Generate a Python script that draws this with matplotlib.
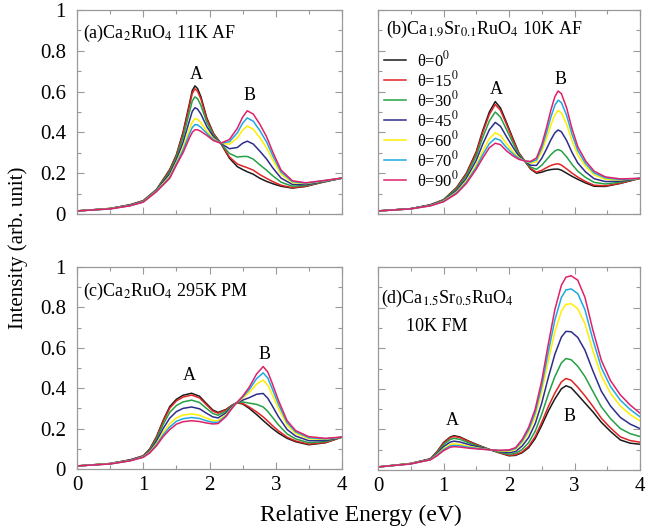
import matplotlib
matplotlib.use("Agg")
import matplotlib.pyplot as plt
from matplotlib.ticker import MultipleLocator, FixedLocator, FixedFormatter

plt.rcParams['font.family'] = ['Liberation Serif', 'DejaVu Serif']
plt.rcParams['mathtext.fontset'] = 'stix'

# angle labels and line colours
angles = ["0", "15", "30", "45", "60", "70", "90"]
colors = ["#1a1a1a", "#e02424", "#25a045", "#2e2e8a", "#ffee00", "#1fa8e0", "#e0206a"]

# (a) Ca2RuO4 11K AF
e_a = [0, 0.5, 0.8, 1.0, 1.2, 1.4, 1.5, 1.6, 1.7, 1.74, 1.78, 1.82, 1.87, 1.96, 2.06, 2.17,
       2.3, 2.42, 2.5, 2.57, 2.66, 2.76, 2.86, 2.96, 3.08, 3.25, 3.45, 3.7, 4.0]
a_0 = [0.015, 0.027, 0.045, 0.065, 0.12, 0.218, 0.29, 0.40, 0.545, 0.605, 0.628, 0.615, 0.575, 0.47, 0.395, 0.347,
       0.274, 0.232, 0.218, 0.207, 0.195, 0.175, 0.16, 0.148, 0.136, 0.127, 0.135, 0.155, 0.176]
a_15 = [0.015, 0.027, 0.045, 0.065, 0.119, 0.215, 0.287, 0.393, 0.534, 0.591, 0.614, 0.601, 0.564, 0.464, 0.393, 0.347,
        0.280, 0.245, 0.235, 0.227, 0.215, 0.193, 0.175, 0.158, 0.141, 0.129, 0.136, 0.156, 0.176]
a_30 = [0.015, 0.027, 0.044, 0.063, 0.118, 0.207, 0.278, 0.375, 0.503, 0.554, 0.574, 0.565, 0.533, 0.449, 0.386, 0.347,
        0.297, 0.279, 0.282, 0.282, 0.269, 0.241, 0.215, 0.186, 0.156, 0.136, 0.14, 0.157, 0.176]
a_45 = [0.015, 0.026, 0.043, 0.062, 0.115, 0.197, 0.265, 0.35, 0.46, 0.503, 0.521, 0.514, 0.49, 0.428, 0.378, 0.347,
        0.32, 0.326, 0.347, 0.357, 0.343, 0.308, 0.27, 0.224, 0.176, 0.145, 0.144, 0.159, 0.176]
a_60 = [0.015, 0.026, 0.041, 0.060, 0.113, 0.186, 0.253, 0.325, 0.418, 0.451, 0.467, 0.464, 0.448, 0.406, 0.369, 0.347,
        0.342, 0.373, 0.411, 0.431, 0.416, 0.374, 0.325, 0.262, 0.195, 0.154, 0.149, 0.161, 0.176]
a_70 = [0.015, 0.025, 0.041, 0.059, 0.111, 0.18, 0.246, 0.312, 0.395, 0.424, 0.438, 0.437, 0.425, 0.395, 0.364, 0.347,
        0.354, 0.398, 0.445, 0.471, 0.455, 0.409, 0.354, 0.282, 0.206, 0.159, 0.151, 0.162, 0.176]
a_90 = [0.015, 0.025, 0.040, 0.058, 0.11, 0.175, 0.24, 0.30, 0.375, 0.40, 0.413, 0.413, 0.405, 0.385, 0.36, 0.347,
        0.365, 0.42, 0.475, 0.506, 0.49, 0.44, 0.38, 0.30, 0.215, 0.163, 0.153, 0.163, 0.176]

# (b) Ca1.9Sr0.1RuO4 10K AF
e_b = [0, 0.5, 0.8, 1.0, 1.2, 1.35, 1.5, 1.6, 1.7, 1.79, 1.87, 1.96, 2.06, 2.15, 2.24, 2.33,
       2.42, 2.5, 2.57, 2.64, 2.7, 2.75, 2.8, 2.88, 2.96, 3.05, 3.17, 3.3, 3.47, 3.7, 4.0]
b_0 = [0.015, 0.026, 0.045, 0.07, 0.13, 0.20, 0.305, 0.41, 0.50, 0.551, 0.52, 0.45, 0.37, 0.30, 0.26, 0.22,
       0.20, 0.205, 0.213, 0.218, 0.22, 0.22, 0.215, 0.20, 0.185, 0.17, 0.152, 0.136, 0.135, 0.15, 0.175]
b_15 = [0.015, 0.026, 0.045, 0.069, 0.128, 0.197, 0.299, 0.401, 0.488, 0.537, 0.508, 0.441, 0.364, 0.298, 0.26, 0.223,
        0.205, 0.214, 0.227, 0.238, 0.244, 0.246, 0.24, 0.221, 0.201, 0.181, 0.159, 0.141, 0.138, 0.151, 0.175]
b_30 = [0.015, 0.026, 0.044, 0.068, 0.123, 0.188, 0.284, 0.376, 0.456, 0.5, 0.475, 0.415, 0.349, 0.292, 0.26, 0.23,
        0.219, 0.239, 0.265, 0.291, 0.309, 0.316, 0.309, 0.28, 0.244, 0.21, 0.179, 0.155, 0.147, 0.156, 0.175]
b_45 = [0.015, 0.026, 0.043, 0.065, 0.115, 0.175, 0.263, 0.343, 0.413, 0.449, 0.43, 0.38, 0.328, 0.284, 0.26, 0.239,
        0.238, 0.273, 0.317, 0.364, 0.398, 0.412, 0.403, 0.36, 0.303, 0.25, 0.206, 0.173, 0.159, 0.161, 0.175]
b_60 = [0.015, 0.025, 0.041, 0.063, 0.108, 0.163, 0.241, 0.309, 0.369, 0.398, 0.385, 0.345, 0.306, 0.276, 0.26, 0.249,
        0.256, 0.306, 0.368, 0.437, 0.486, 0.507, 0.496, 0.44, 0.361, 0.29, 0.233, 0.192, 0.17, 0.167, 0.175]
b_70 = [0.015, 0.025, 0.041, 0.061, 0.104, 0.156, 0.23, 0.291, 0.345, 0.371, 0.361, 0.326, 0.295, 0.272, 0.26, 0.254,
        0.266, 0.324, 0.396, 0.476, 0.533, 0.558, 0.546, 0.483, 0.393, 0.311, 0.247, 0.201, 0.177, 0.169, 0.175]
b_90 = [0.015, 0.025, 0.04, 0.06, 0.10, 0.15, 0.22, 0.275, 0.325, 0.347, 0.34, 0.31, 0.285, 0.268, 0.26, 0.258,
        0.275, 0.34, 0.42, 0.51, 0.575, 0.603, 0.59, 0.52, 0.42, 0.33, 0.26, 0.21, 0.182, 0.172, 0.175]

# (c) Ca2RuO4 295K PM
e_c = [0, 0.5, 0.8, 1.0, 1.1, 1.2, 1.3, 1.4, 1.5, 1.6, 1.73, 1.85, 1.95, 2.05, 2.13,
       2.25, 2.35, 2.41, 2.5, 2.6, 2.71, 2.81, 2.88, 2.94, 3.04, 3.17, 3.3, 3.5, 3.75, 4.0]
c_0 = [0.015, 0.027, 0.045, 0.065, 0.10, 0.16, 0.24, 0.309, 0.345, 0.365, 0.375, 0.36, 0.325, 0.292, 0.28,
       0.295, 0.318, 0.328, 0.322, 0.30, 0.27, 0.24, 0.22, 0.203, 0.178, 0.152, 0.135, 0.12, 0.13, 0.158]
c_15 = [0.015, 0.027, 0.045, 0.065, 0.099, 0.157, 0.235, 0.301, 0.337, 0.356, 0.366, 0.352, 0.319, 0.287, 0.276,
        0.293, 0.317, 0.328, 0.325, 0.307, 0.283, 0.258, 0.237, 0.218, 0.189, 0.158, 0.139, 0.123, 0.131, 0.158]
c_30 = [0.015, 0.027, 0.044, 0.063, 0.095, 0.149, 0.22, 0.281, 0.314, 0.332, 0.341, 0.329, 0.301, 0.275, 0.266,
        0.286, 0.315, 0.328, 0.332, 0.326, 0.32, 0.307, 0.285, 0.26, 0.219, 0.174, 0.149, 0.13, 0.136, 0.158]
c_45 = [0.015, 0.026, 0.043, 0.062, 0.09, 0.138, 0.20, 0.252, 0.284, 0.30, 0.307, 0.298, 0.277, 0.258, 0.253,
        0.278, 0.312, 0.328, 0.341, 0.353, 0.37, 0.374, 0.35, 0.317, 0.259, 0.196, 0.163, 0.14, 0.141, 0.158]
c_60 = [0.015, 0.026, 0.041, 0.060, 0.085, 0.126, 0.18, 0.224, 0.253, 0.267, 0.273, 0.266, 0.252, 0.24, 0.239,
        0.269, 0.308, 0.328, 0.351, 0.379, 0.42, 0.44, 0.415, 0.373, 0.30, 0.218, 0.176, 0.15, 0.147, 0.158]
c_70 = [0.015, 0.025, 0.041, 0.059, 0.082, 0.12, 0.169, 0.208, 0.236, 0.249, 0.255, 0.25, 0.239, 0.231, 0.231,
        0.264, 0.307, 0.328, 0.356, 0.393, 0.447, 0.476, 0.45, 0.403, 0.321, 0.23, 0.184, 0.155, 0.149, 0.158]
c_90 = [0.015, 0.025, 0.04, 0.058, 0.08, 0.115, 0.16, 0.195, 0.222, 0.234, 0.239, 0.235, 0.228, 0.223, 0.225,
        0.26, 0.305, 0.328, 0.36, 0.405, 0.47, 0.507, 0.48, 0.43, 0.34, 0.24, 0.19, 0.16, 0.152, 0.158]

# (d) Ca1.5Sr0.5RuO4 10K FM
e_d = [0, 0.5, 0.8, 0.9, 1.0, 1.1, 1.16, 1.25, 1.4, 1.55, 1.72, 1.85, 2.0, 2.1, 2.2, 2.3,
       2.4, 2.5, 2.6, 2.7, 2.8, 2.87, 2.95, 3.05, 3.16, 3.28, 3.41, 3.55, 3.7, 3.85, 4.0]
d_0 = [0.015, 0.032, 0.055, 0.09, 0.135, 0.162, 0.169, 0.163, 0.14, 0.12, 0.099, 0.085, 0.07, 0.072, 0.085, 0.11,
       0.155, 0.22, 0.29, 0.35, 0.40, 0.415, 0.405, 0.37, 0.33, 0.287, 0.235, 0.19, 0.148, 0.132, 0.127]
d_15 = [0.015, 0.032, 0.055, 0.089, 0.132, 0.159, 0.165, 0.16, 0.138, 0.119, 0.099, 0.086, 0.072, 0.075, 0.089, 0.117,
        0.165, 0.235, 0.312, 0.379, 0.434, 0.451, 0.442, 0.408, 0.365, 0.314, 0.255, 0.207, 0.163, 0.145, 0.137]
d_30 = [0.015, 0.032, 0.054, 0.085, 0.125, 0.15, 0.156, 0.151, 0.132, 0.116, 0.099, 0.088, 0.077, 0.082, 0.101, 0.135,
        0.191, 0.275, 0.373, 0.46, 0.528, 0.549, 0.543, 0.511, 0.46, 0.388, 0.311, 0.253, 0.204, 0.179, 0.165]
d_45 = [0.015, 0.031, 0.053, 0.08, 0.115, 0.137, 0.142, 0.138, 0.124, 0.112, 0.099, 0.091, 0.085, 0.091, 0.118, 0.16,
        0.228, 0.33, 0.455, 0.57, 0.655, 0.683, 0.681, 0.653, 0.59, 0.489, 0.388, 0.315, 0.259, 0.226, 0.204]
d_60 = [0.015, 0.031, 0.051, 0.075, 0.105, 0.125, 0.129, 0.126, 0.115, 0.107, 0.099, 0.094, 0.092, 0.101, 0.134, 0.185,
        0.264, 0.385, 0.538, 0.68, 0.783, 0.816, 0.819, 0.794, 0.72, 0.589, 0.464, 0.378, 0.315, 0.273, 0.242]
d_70 = [0.015, 0.030, 0.051, 0.072, 0.10, 0.118, 0.121, 0.119, 0.111, 0.105, 0.099, 0.096, 0.096, 0.106, 0.142, 0.198,
        0.283, 0.414, 0.581, 0.739, 0.85, 0.887, 0.892, 0.869, 0.789, 0.643, 0.504, 0.411, 0.344, 0.298, 0.262]
d_90 = [0.015, 0.03, 0.05, 0.07, 0.095, 0.112, 0.115, 0.113, 0.107, 0.103, 0.099, 0.097, 0.099, 0.11, 0.15, 0.21,
        0.30, 0.44, 0.62, 0.79, 0.91, 0.95, 0.957, 0.935, 0.85, 0.69, 0.54, 0.44, 0.37, 0.32, 0.28]

ytick_vals = [0, 0.2, 0.4, 0.6, 0.8, 1.0]
ytick_labels = ["0", "0.2", "0.4", "0.6", "0.8", "1"]
xtick_vals = [0, 1, 2, 3, 4]
xtick_labels = ["0", "1", "2", "3", "4"]

W, H = 647, 531
fig = plt.figure(figsize=(W / 100, H / 100), dpi=100)


def px_axes(x0, y0, x1, y1):
    return fig.add_axes([x0 / W, 1 - y1 / H, (x1 - x0) / W, (y1 - y0) / H])


ax_a = px_axes(77, 10, 342, 214)
ax_b = px_axes(378, 10, 640, 214)
ax_c = px_axes(77, 267, 342, 469)
ax_d = px_axes(378, 267, 640, 470)

frame = "#999999"
panels = [
    (ax_a, e_a, [a_0, a_15, a_30, a_45, a_60, a_70, a_90], True, False),
    (ax_b, e_b, [b_0, b_15, b_30, b_45, b_60, b_70, b_90], False, False),
    (ax_c, e_c, [c_0, c_15, c_30, c_45, c_60, c_70, c_90], True, True),
    (ax_d, e_d, [d_0, d_15, d_30, d_45, d_60, d_70, d_90], False, True),
]
for ax, e, curves, show_y, show_x in panels:
    for ang, col, ys in zip(angles, colors, curves):
        ax.plot(e, ys, color=col, lw=1.1, label=r"θ=" + ang + r"$^{0}$")
    ax.set_xlim(0, 4)
    ax.set_ylim(0, 1)
    ax.xaxis.set_major_locator(FixedLocator(xtick_vals))
    ax.xaxis.set_minor_locator(MultipleLocator(0.5))
    ax.yaxis.set_major_locator(FixedLocator(ytick_vals))
    ax.yaxis.set_minor_locator(MultipleLocator(0.1))
    ax.yaxis.set_major_formatter(FixedFormatter(ytick_labels))
    ax.xaxis.set_major_formatter(FixedFormatter(xtick_labels))
    ax.tick_params(which="both", direction="in", top=True, right=True, color=frame,
                   labelsize=15, labelleft=show_y, labelbottom=show_x)
    ax.tick_params(which="major", length=5, width=0.8)
    ax.tick_params(which="minor", length=3, width=0.8)
    ax.tick_params(axis="y", pad=8)
    ax.tick_params(axis="x", pad=5)
    for sp in ax.spines.values():
        sp.set_color(frame)
        sp.set_linewidth(0.9)

tfs = 13
ax_a.text(0.023, 0.887, r"(a)Ca$_2$RuO$_4$ 11K AF", transform=ax_a.transAxes, fontsize=tfs, va="center")
ax_b.text(0.03, 0.905, r"(b)Ca$_{1.9}$Sr$_{0.1}$RuO$_4$ 10K AF", transform=ax_b.transAxes, fontsize=tfs, va="center")
ax_c.text(0.023, 0.878, r"(c)Ca$_2$RuO$_4$ 295K PM", transform=ax_c.transAxes, fontsize=tfs, va="center")
ax_d.text(0.01, 0.846, r"(d)Ca$_{1.5}$Sr$_{0.5}$RuO$_4$", transform=ax_d.transAxes, fontsize=tfs, va="center")
ax_d.text(0.107, 0.706, "10K FM", transform=ax_d.transAxes, fontsize=tfs, va="center")

pfs = 13
ax_a.text(1.80, 0.686, "A", fontsize=pfs, ha="center", va="center")
ax_a.text(2.61, 0.58, "B", fontsize=pfs, ha="center", va="center")
ax_b.text(1.81, 0.608, "A", fontsize=pfs, ha="center", va="center")
ax_b.text(2.79, 0.657, "B", fontsize=pfs, ha="center", va="center")
ax_c.text(1.70, 0.462, "A", fontsize=pfs, ha="center", va="center")
ax_c.text(2.83, 0.569, "B", fontsize=pfs, ha="center", va="center")
ax_d.text(1.14, 0.246, "A", fontsize=pfs, ha="center", va="center")
ax_d.text(2.93, 0.263, "B", fontsize=pfs, ha="center", va="center")

ax_b.legend(loc="upper left", bbox_to_anchor=(0.01, 0.82), frameon=False, fontsize=12,
            handlelength=1.3, handletextpad=0.7, labelspacing=0.0, borderaxespad=0.0,
            borderpad=0.2)

fig.text(0.028, 0.533, "Intensity (arb. unit)", rotation=90, fontsize=15, ha="center", va="center")
fig.text(0.558, 0.03, "Relative Energy (eV)", fontsize=17, ha="center", va="center")

fig.savefig("out.png", dpi=100)
